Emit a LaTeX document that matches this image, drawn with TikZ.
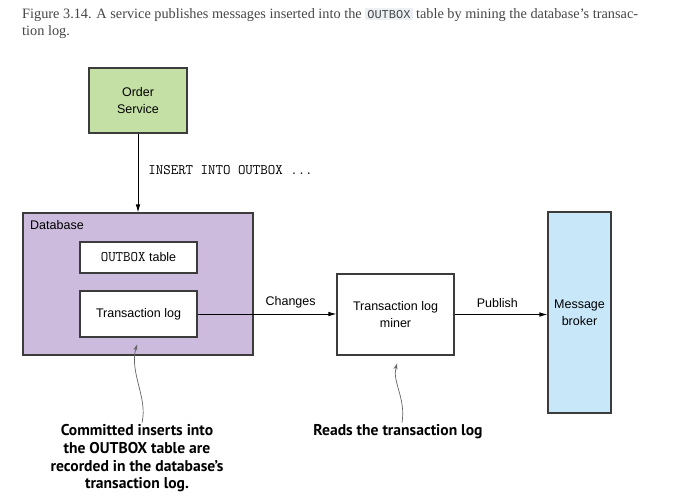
\documentclass[tikz,border=0pt]{standalone}
\usepackage{fontspec}
\setmainfont{Liberation Serif}
\setsansfont{Liberation Sans}
\newfontfamily\notefamily[Ligatures=TeX]{PT Sans}
\newfontfamily\inlinemono{Liberation Mono}
\usetikzlibrary{arrows.meta}

\definecolor{servicegreen}{RGB}{197,224,165}
\definecolor{dbpurple}{RGB}{204,187,221}
\definecolor{brokerblue}{RGB}{200,232,250}
\definecolor{boxline}{RGB}{60,60,60}
\definecolor{pointergray}{RGB}{100,100,100}
\definecolor{captiongray}{RGB}{70,70,70}
\definecolor{codebg}{RGB}{236,239,243}

\newcommand{\diagfont}{\fontsize{12.5}{17}\selectfont\sffamily}
\newcommand{\codefont}{\fontsize{14.5}{17}\selectfont\ttfamily}
\newcommand{\notefont}{\fontsize{15.6}{17.7}\selectfont\notefamily\bfseries}
\newcommand{\captionfont}{\fontsize{14.3}{17}\selectfont\rmfamily}
\newcommand{\inlinecode}[1]{{\setlength{\fboxsep}{2pt}\colorbox{codebg}{\fontsize{12}{13}\selectfont\inlinemono #1}}}

\begin{document}
\begin{tikzpicture}[x=1pt,y=-1pt]
	\tikzstyle{box} = [draw=boxline,line width=1.1pt,inner sep=0pt,font=\diagfont,align=center]
	\tikzstyle{flow} = [-{Latex[length=8pt,width=4.5pt]},line width=0.8pt]
	\tikzstyle{note} = [font=\notefont,align=center,inner sep=0pt]
	\tikzstyle{pointer} = [-{Stealth[length=6pt,width=4pt]},draw=pointergray,line width=0.7pt]

	\useasboundingbox[fill=white] (0,0) rectangle (674,501);

	% CAPTION %
	\node[anchor=base west,inner sep=0pt,font=\captionfont,text=captiongray] (cap1) at (22,18)
		{Figure 3.14. A service publishes messages inserted into the \inlinecode{OUTBOX} table by mining the database’s transac-};
	\node[anchor=base west,inner sep=0pt,font=\captionfont,text=captiongray] (cap2) at (22,35) {tion log.};

	% NODES %
	\node[box,fill=servicegreen,minimum width=98pt,minimum height=65pt] (order) at (138,100.5) {Order\\Service};
	\node[box,fill=dbpurple,minimum width=230pt,minimum height=142pt] (database) at (138,284) {};
	\node[anchor=west,inner sep=0pt,font=\diagfont] (dblabel) at (30,225) {Database};
	\node[box,fill=white,minimum width=117pt,minimum height=31pt] (outbox) at (138.5,257.5) {{\codefont OUTBOX} table};
	\node[box,fill=white,minimum width=117pt,minimum height=46pt] (txlog) at (138.5,314) {Transaction log};
	\node[box,fill=white,minimum width=117pt,minimum height=81pt] (miner) at (395.5,314.5) {Transaction log\\miner};
	\node[box,fill=brokerblue,minimum width=63pt,minimum height=201pt] (broker) at (579.5,312.5) {Message\\broker};

	% EDGES %
	\draw[flow] (order) -- (order |- database.north)
		node[pos=0.46,right=10pt,inner sep=0pt,font=\codefont] (insert) {INSERT INTO OUTBOX ...};
	\draw[flow] (txlog.east) -- (txlog.east -| miner.west)
		node[pos=0.67,above=6pt,inner sep=0pt,font=\diagfont] (changes) {Changes};
	\draw[flow] (miner.east) -- (miner.east -| broker.west)
		node[pos=0.46,above=6pt,inner sep=0pt,font=\diagfont] (publish) {Publish};

	% NOTES %
	\node[note] (dbnote) at (137,458.5) {Committed inserts into\\the OUTBOX table are\\recorded in the database’s\\transaction log.};
	\node[note] (minernote) at (398,432) {Reads the transaction log};
	\draw[pointer] ([xshift=5pt,yshift=2pt]dbnote.north) .. controls (148,398) and (129,372) .. ([xshift=-1.5pt,yshift=-7pt]txlog.south);
	\draw[pointer] ([xshift=4pt,yshift=2pt]minernote.north) .. controls (406,398) and (392,382) .. ([xshift=1.5pt,yshift=-8pt]miner.south);
\end{tikzpicture}
\end{document}
